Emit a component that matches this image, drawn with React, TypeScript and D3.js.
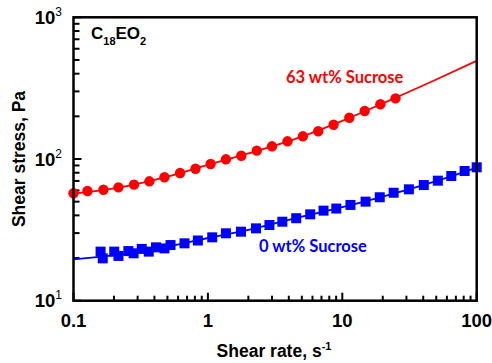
import React from "react";
import * as d3 from "d3";

// 63 wt% sucrose (red circles)
const redRate = [0.1, 0.127, 0.167, 0.216, 0.282, 0.367, 0.475, 0.621, 0.809, 1.048, 1.362, 1.772, 2.31, 3.0, 3.91, 5.09, 6.62, 8.61, 11.28, 14.67, 19.2, 24.9];
const redStress = [57.3, 59.5, 60.7, 63.1, 65.9, 69.6, 74.3, 79.6, 85.4, 92.2, 99.5, 105.5, 114.5, 122.9, 133.3, 144.6, 156.9, 174.6, 195.6, 218.2, 243.3, 268];
const redFitRate = [0.1, 0.2, 0.5, 1, 2, 5, 10, 20, 50, 100];
const redFitStress = [57, 62, 75.2, 91, 109.5, 144, 186, 247, 364, 494];

// 0 wt% sucrose (blue squares)
const blueRate = [0.159, 0.165, 0.201, 0.216, 0.256, 0.28, 0.322, 0.363, 0.411, 0.475, 0.527, 0.67, 0.842, 1.077, 1.362, 1.763, 2.28, 2.87, 3.58, 4.54, 5.77, 7.25, 9.02, 11.5, 14.9, 19.0, 24.1, 31.3, 40.4, 51.4, 64.7, 81.3, 100];
const blueStress = [22.2, 19.9, 22.2, 20.7, 22.4, 21.6, 23.2, 22.2, 23.8, 23.4, 24.7, 25.4, 26.6, 28.0, 29.9, 30.7, 32.4, 34.2, 36.1, 38.2, 40.7, 43.2, 44.7, 47.4, 50.0, 53.7, 57.8, 61.1, 65.5, 70.3, 75.9, 82.3, 87.4];
const blueFitRate = [0.1, 0.2, 0.5, 1, 2, 5, 10, 20, 50, 100];
const blueFitStress = [19.6, 21.0, 24.0, 27.7, 31.6, 39.2, 45.7, 54.3, 69.8, 87];

const xMajor = [0.1, 1, 10, 100];
const xMajorLabels = ["0.1", "1", "10", "100"];
const yMajor = [10, 100, 1000];
const yExponents = ["1", "2", "3"];

const WIDTH = 492;
const HEIGHT = 363;
const PLOT = { LEFT: 73.5, RIGHT: 476.7, TOP: 17.3, BOTTOM: 300.7 };
const RED = "#ff0000";
const BLUE = "#0000ff";
const AXIS_FONT = "Arial, 'Liberation Sans', sans-serif";
const NOTE_FONT = "Lato, 'Open Sans', sans-serif";

const minorTicks = (lo: number, hi: number) => {
  const out: number[] = [];
  for (let d = lo; d < hi; d *= 10) {
    for (let k = 2; k <= 9; k++) out.push(d * k);
  }
  return out;
};

const App = () => {
  const x = d3.scaleLog().domain([0.1, 100]).range([PLOT.LEFT, PLOT.RIGHT]);
  const y = d3.scaleLog().domain([10, 1000]).range([PLOT.BOTTOM, PLOT.TOP]);

  const fitLine = d3
    .line<[number, number]>()
    .x((d) => x(d[0]))
    .y((d) => y(d[1]))
    .curve(d3.curveMonotoneX);

  const redFit = fitLine(redFitRate.map((r, i) => [r, redFitStress[i]]));
  const blueFit = fitLine(blueFitRate.map((r, i) => [r, blueFitStress[i]]));

  const SQ = 10;

  return (
    <svg width={WIDTH} height={HEIGHT} style={{ position: "absolute", left: 0, top: 0, background: "#fff" }}>
      {/* ticks (inward) */}
      <g stroke="#000" strokeWidth={2}>
        {minorTicks(0.1, 100).map((v) => (
          <line key={"xm" + v} x1={x(v)} x2={x(v)} y1={PLOT.BOTTOM} y2={PLOT.BOTTOM - 5} />
        ))}
        {xMajor.map((v) => (
          <line key={"xM" + v} x1={x(v)} x2={x(v)} y1={PLOT.BOTTOM} y2={PLOT.BOTTOM - 8} />
        ))}
        {minorTicks(10, 1000).map((v) => (
          <line key={"ym" + v} x1={PLOT.LEFT} x2={PLOT.LEFT + 6} y1={y(v)} y2={y(v)} />
        ))}
        {yMajor.map((v) => (
          <line key={"yM" + v} x1={PLOT.LEFT} x2={PLOT.LEFT + 8} y1={y(v)} y2={y(v)} />
        ))}
      </g>

      {/* fits */}
      <path d={redFit ?? ""} fill="none" stroke={RED} strokeWidth={1.8} />
      <path d={blueFit ?? ""} fill="none" stroke={BLUE} strokeWidth={1.8} />

      {/* data */}
      {redRate.map((r, i) => (
        <circle key={"r" + i} cx={x(r)} cy={y(redStress[i])} r={5.2} fill={RED} />
      ))}
      {blueRate.map((r, i) => (
        <rect key={"b" + i} x={x(r) - SQ / 2} y={y(blueStress[i]) - SQ / 2} width={SQ} height={SQ} fill={BLUE} />
      ))}

      {/* frame */}
      <rect
        x={PLOT.LEFT}
        y={PLOT.TOP}
        width={PLOT.RIGHT - PLOT.LEFT}
        height={PLOT.BOTTOM - PLOT.TOP}
        fill="none"
        stroke="#000"
        strokeWidth={2.5}
      />

      {/* tick labels */}
      <g fontFamily={AXIS_FONT} fontWeight="bold" fontSize={18.5} fill="#000">
        {xMajor.map((v, i) => (
          <text key={"xl" + v} x={x(v)} y={327} textAnchor="middle">
            {xMajorLabels[i]}
          </text>
        ))}
        {yMajor.map((v, i) => (
          <text key={"yl" + v} x={62} y={y(v) + 6.5} textAnchor="end">
            10
            <tspan dy={-8} fontSize={12} fontWeight="normal">
              {yExponents[i]}
            </tspan>
          </text>
        ))}
      </g>

      {/* axis titles */}
      <text x={274} y={357} textAnchor="middle" fontFamily={AXIS_FONT} fontWeight="bold" fontSize={17.5}>
        Shear rate, s
        <tspan dy={-7} fontSize={11}>
          -1
        </tspan>
      </text>
      <text
        transform={`translate(25,${(PLOT.TOP + PLOT.BOTTOM) / 2}) rotate(-90)`}
        textAnchor="middle"
        fontFamily={AXIS_FONT}
        fontWeight="bold"
        fontSize={17.5}
      >
        Shear stress, Pa
      </text>

      {/* annotations */}
      <text x={91} y={39.3} fontFamily={AXIS_FONT} fontWeight="bold" fontSize={17}>
        C
        <tspan dy={5.5} fontSize={11}>18</tspan>
        <tspan dy={-5.5}>EO</tspan>
        <tspan dy={5.5} fontSize={11}>2</tspan>
      </text>
      <text x={344.7} y={82.7} textAnchor="middle" fontFamily={NOTE_FONT} fontWeight="bold" fontSize={16.5} fill={RED}>
        63 wt% Sucrose
      </text>
      <text x={313} y={251.7} textAnchor="middle" fontFamily={NOTE_FONT} fontWeight="bold" fontSize={16.5} fill={BLUE}>
        0 wt% Sucrose
      </text>
    </svg>
  );
};

export default App;
